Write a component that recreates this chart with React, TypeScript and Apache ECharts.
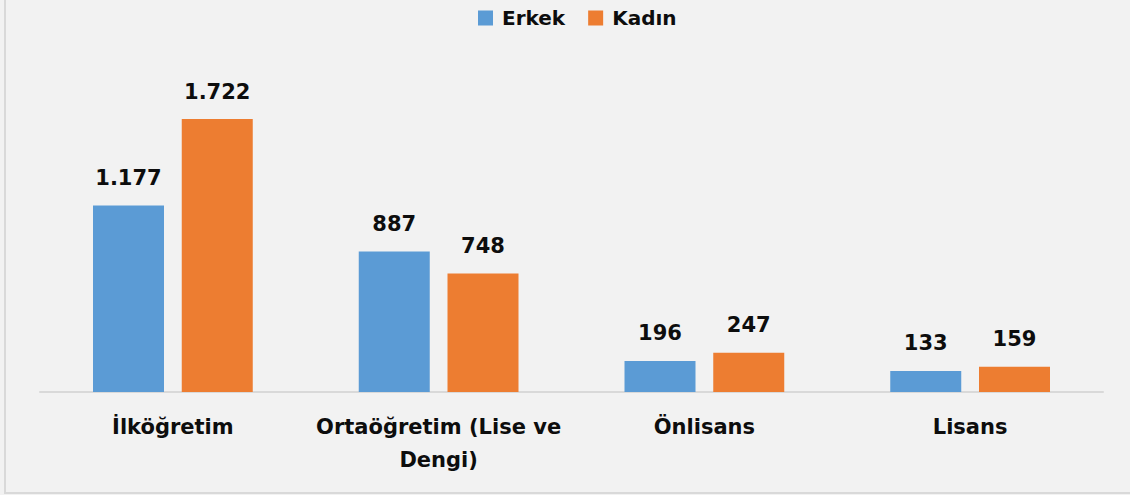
import React, { useEffect, useRef } from "react";
import * as echarts from "echarts";

const categories = ["İlköğretim", "Ortaöğretim (Lise ve Dengi)", "Önlisans", "Lisans"];
const erkek = [1177, 887, 196, 133];
const kadin = [1722, 748, 247, 159];
const seriesNames = ["Erkek", "Kadın"];

const fmt = (v: number) => v.toLocaleString("de-DE");

export default function App() {
  const ref = useRef<HTMLDivElement>(null);
  useEffect(() => {
    document.body.style.margin = "0";
    const chart = echarts.init(ref.current!, null, { renderer: "svg" });
    const font = "DejaVu Sans";
    const label = {
      show: true,
      position: "top",
      distance: 17,
      fontFamily: font,
      fontWeight: "bold",
      fontSize: 21,
      color: "#0d0d0d",
      formatter: (p: any) => fmt(p.value),
    };
    chart.setOption({
      animation: false,
      backgroundColor: "#f2f2f2",
      legend: {
        data: seriesNames,
        top: 3,
        left: 473,
        itemWidth: 15,
        itemHeight: 15,
        itemGap: 23,
        icon: "rect",
        textStyle: {
          fontFamily: font,
          fontWeight: "bold",
          fontSize: 20,
          color: "#0d0d0d",
          padding: [0, 0, 0, 4],
        },
      },
      grid: { left: 40, right: 27, top: 75, bottom: 103, containLabel: false },
      xAxis: {
        type: "category",
        data: categories,
        axisLine: { lineStyle: { color: "#d9d9d9", width: 2 } },
        axisTick: { show: false },
        axisLabel: {
          interval: 0,
          margin: 18,
          fontFamily: font,
          fontWeight: "bold",
          fontSize: 21,
          lineHeight: 33,
          color: "#0d0d0d",
          formatter: (v: string) => v.replace("ve Dengi)", "ve\nDengi)"),
        },
      },
      yAxis: { type: "value", min: 0, max: 2000, show: false, splitLine: { show: false } },
      graphic: [
        { type: "line", shape: { x1: 5, y1: 0, x2: 5, y2: 494 }, style: { stroke: "#d9d9d9", lineWidth: 2 } },
        { type: "line", shape: { x1: 4, y1: 493, x2: 1130, y2: 493 }, style: { stroke: "#d9d9d9", lineWidth: 2 } },
      ],
      series: [
        {
          name: seriesNames[0],
          type: "bar",
          data: erkek,
          barWidth: 71,
          barGap: "25%",
          itemStyle: { color: "#5b9bd5" },
          label,
        },
        {
          name: seriesNames[1],
          type: "bar",
          data: kadin,
          barWidth: 71,
          barGap: "25%",
          itemStyle: { color: "#ed7d31" },
          label,
        },
      ],
    });
    return () => chart.dispose();
  }, []);
  return <div ref={ref} style={{ position: "fixed", left: 0, top: 0, width: 1130, height: 495 }} />;
}
